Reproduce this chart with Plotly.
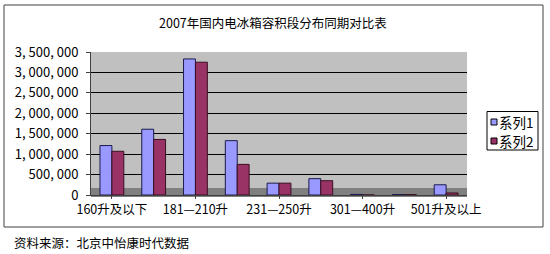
import plotly.graph_objects as go

categories = ["160升及以下", "161—180升", "181—210升", "211—230升", "231—250升",
              "251—300升", "301—400升", "401—500升", "501升及以上"]
series1 = [1210000, 1610000, 3330000, 1330000, 290000, 400000, 15000, 10000, 250000]
series2 = [1070000, 1360000, 3250000, 750000, 290000, 350000, 0, 10000, 50000]
series_names = ["系列1", "系列2"]
series_colors = ["#9999FF", "#993366"]
series_edges = ["#1a1a4d", "#3a0f22"]
shown_labels = ["160升及以下", "181—210升", "231—250升", "301—400升", "501升及以上"]
ytick_vals = [0, 500000, 1000000, 1500000, 2000000, 2500000, 3000000, 3500000]

def fmt(v):
    return "0" if v == 0 else f"{v:,}".replace(",", ", ")

FONT = "Noto Sans CJK SC"

fig = go.Figure()
for name, vals, col, edge in zip(series_names, [series1, series2], series_colors, series_edges):
    fig.add_bar(x=categories, y=vals, name=name, showlegend=False,
                marker=dict(color=col, line=dict(color=edge, width=1)))

L, R, T, B = 91, 467, 52, 195
W, H = 550, 254
pw, ph = R - L, B - T

def px(x):
    return (x - L) / pw

def py(y):
    return (B - y) / ph

shapes = [
    # outer chart border
    dict(type="rect", xref="paper", yref="paper", x0=px(4), x1=px(543), y0=py(227), y1=py(5),
         line=dict(color="#404040", width=1), fillcolor="rgba(0,0,0,0)", layer="below"),
    # floor band
    dict(type="rect", xref="paper", yref="paper", x0=0, x1=1, y0=py(197), y1=py(188),
         line=dict(width=0), fillcolor="#808080", layer="below"),
    # legend box
    dict(type="rect", xref="paper", yref="paper", x0=px(487), x1=px(538), y0=py(150), y1=py(111.5),
         line=dict(color="black", width=1), fillcolor="white"),
]
annotations = [
    dict(text="2007年国内电冰箱容积段分布同期对比表", xref="paper", yref="paper",
         x=px(273), y=py(22), xanchor="center", yanchor="middle", showarrow=False,
         font=dict(family=FONT, size=12.5, color="black")),
    dict(text="资料来源：北京中怡康时代数据", xref="paper", yref="paper",
         x=px(12), y=py(242), xanchor="left", yanchor="middle", showarrow=False,
         font=dict(family=FONT, size=12.5, color="black")),
]
row_y = [121.5, 140.5]
for name, col, yc in zip(series_names, series_colors, row_y):
    shapes.append(dict(type="rect", xref="paper", yref="paper",
                       x0=px(491), x1=px(497), y0=py(yc + 3.5), y1=py(yc - 2.5),
                       line=dict(color="black", width=1), fillcolor=col))
    annotations.append(dict(text=name, xref="paper", yref="paper",
                            x=px(498), y=py(yc), xanchor="left", yanchor="middle",
                            showarrow=False, borderpad=0,
                            font=dict(family=FONT, size=13.5, color="black")))

fig.update_layout(
    width=W, height=H,
    margin=dict(l=L, r=W - R, t=T, b=H - B, pad=0),
    paper_bgcolor="white",
    plot_bgcolor="#C0C0C0",
    barmode="group",
    bargap=0.43,
    bargroupgap=0,
    showlegend=False,
    font=dict(family=FONT, size=12, color="black"),
    shapes=shapes,
    annotations=annotations,
)

fig.update_xaxes(type="category", tickvals=shown_labels, ticktext=shown_labels,
                 showgrid=False, showline=True, linecolor="#404040", linewidth=1,
                 ticks="outside", ticklen=3, tickcolor="#404040",
                 tickfont=dict(family=FONT, size=12.5, color="black"))
fig.update_yaxes(range=[0, 3500000], tickvals=ytick_vals,
                 ticktext=[fmt(v) for v in ytick_vals],
                 showgrid=True, gridcolor="#000000", gridwidth=1,
                 showline=True, linecolor="#404040", linewidth=1,
                 ticks="outside", ticklen=4, tickcolor="#404040",
                 zeroline=False, ticklabelstandoff=5,
                 tickfont=dict(family=FONT, size=13, color="black"))

fig.write_html("out.html")
